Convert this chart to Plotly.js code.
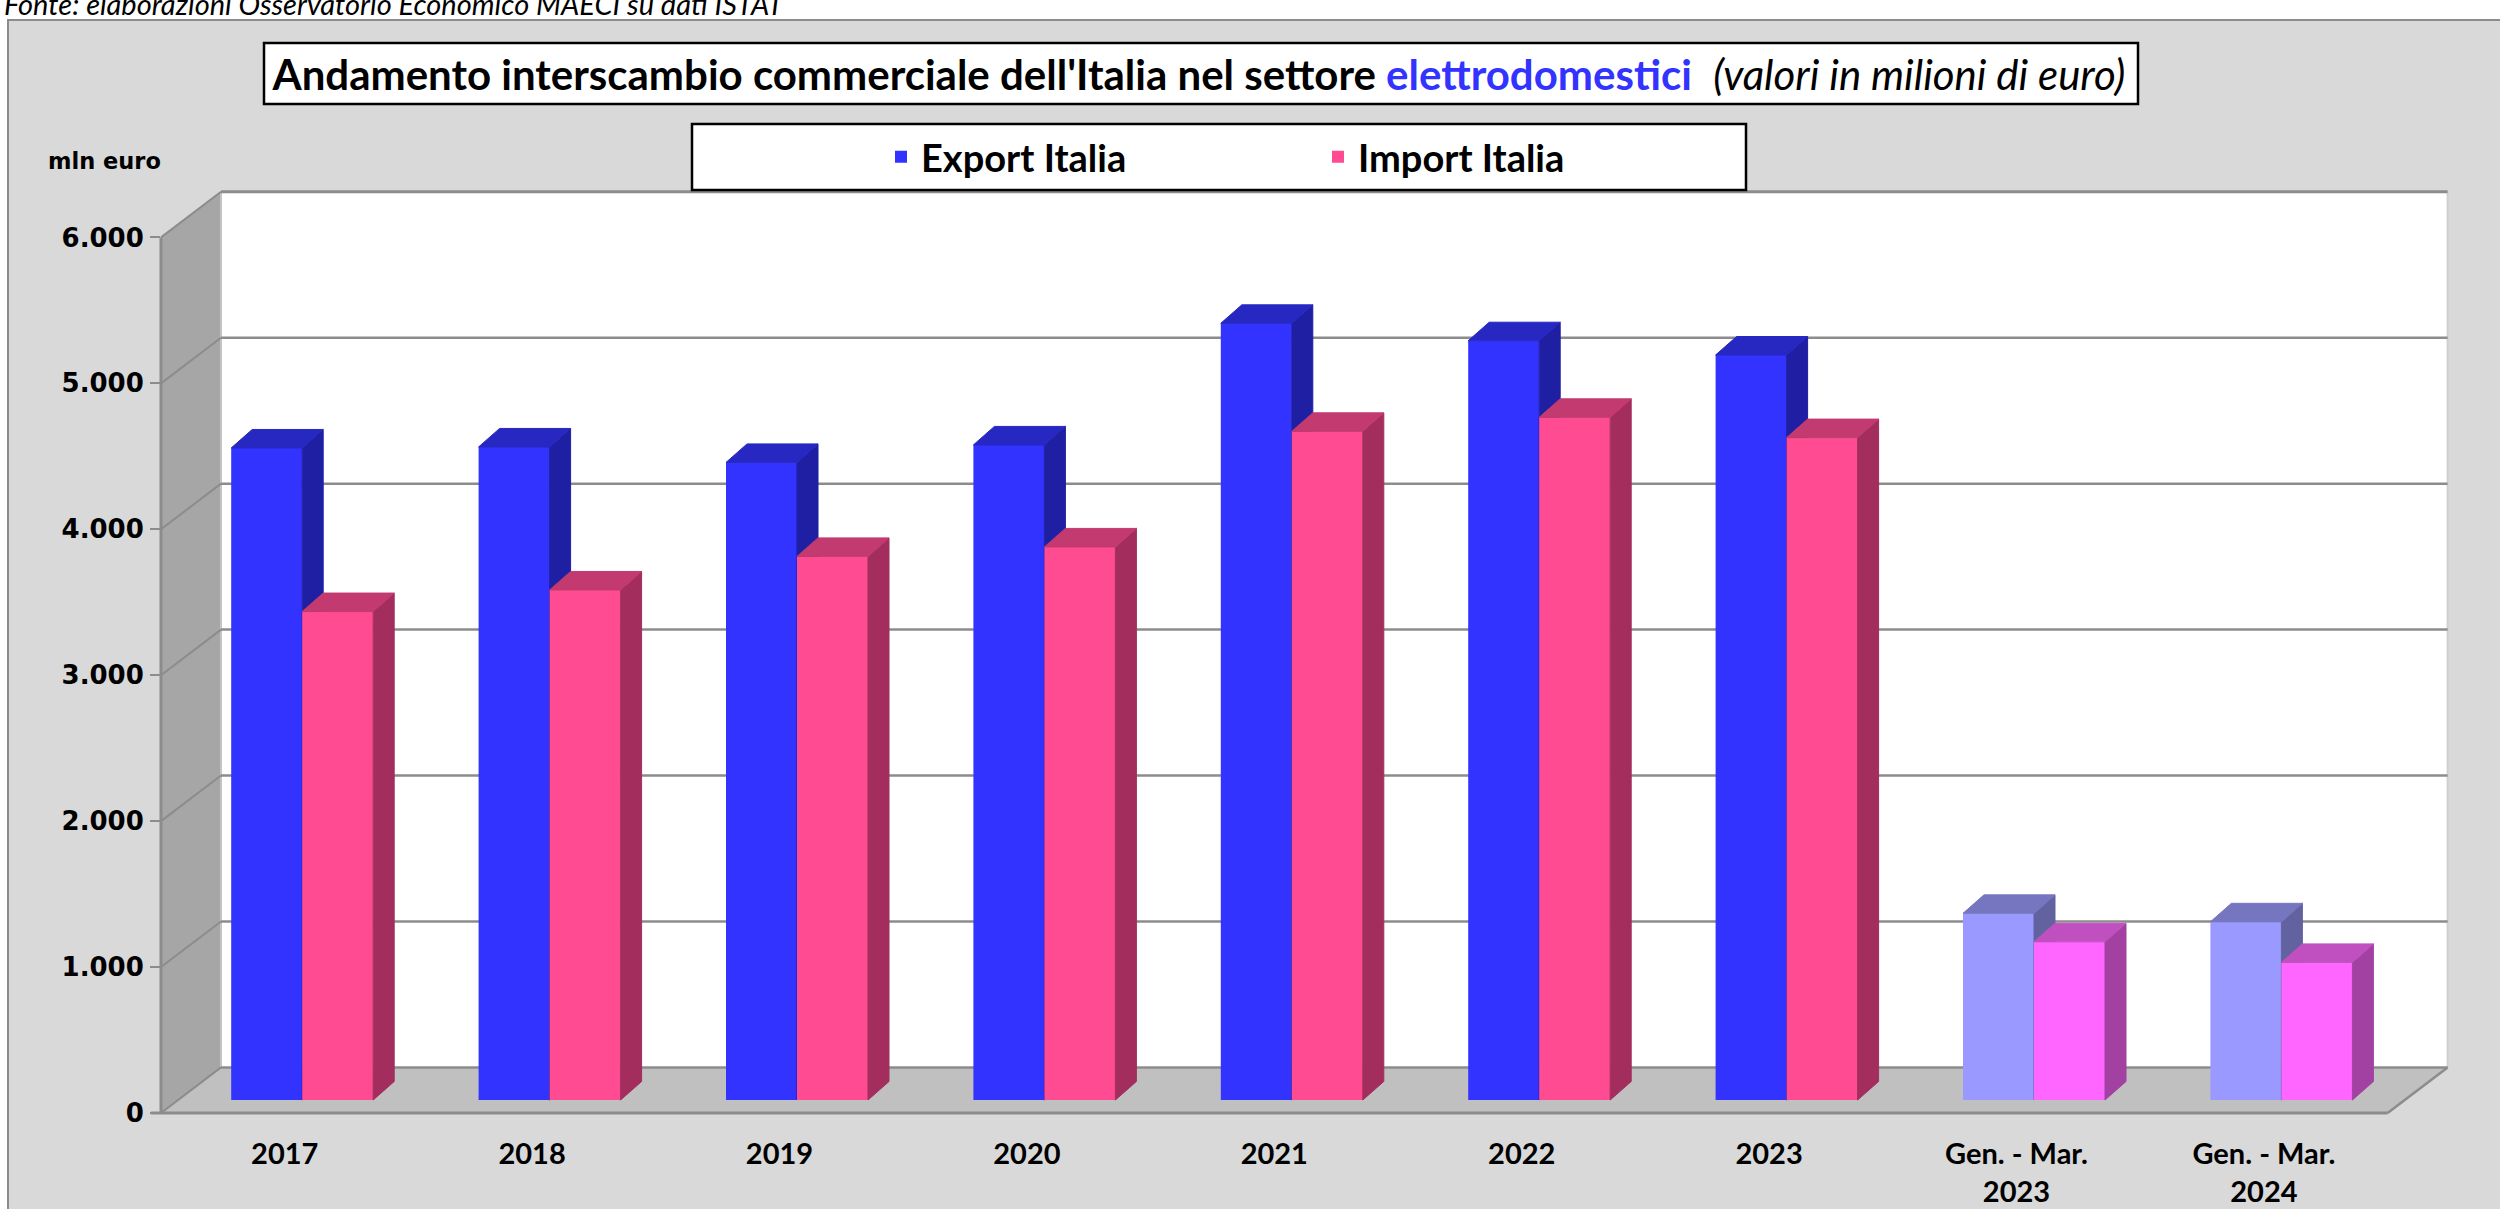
<!DOCTYPE html>
<html>
<head>
<meta charset="utf-8">
<script src="https://cdn.plot.ly/plotly-3.0.1.min.js"></script>
<style>html,body{margin:0;padding:0;background:#fff;}#chart{width:2500px;height:1209px;}</style>
</head>
<body>
<div id="chart"></div>
<script>
// ---------------- DATA ----------------
const categories = ["2017", "2018", "2019", "2020", "2021", "2022", "2023", "Gen. - Mar. 2023", "Gen. - Mar. 2024"];
const tickLabels = ["2017", "2018", "2019", "2020", "2021", "2022", "2023", "Gen. - Mar.<br>2023", "Gen. - Mar.<br>2024"];
const partialPeriod = [false, false, false, false, false, false, false, true, true];
const exportValues = [4468, 4475, 4369, 4489, 5322, 5203, 5105, 1279, 1221];
const importValues = [3347, 3495, 3725, 3790, 4582, 4678, 4539, 1084, 943];
const yTicks = [0, 1000, 2000, 3000, 4000, 5000, 6000];
const seriesNames = ["Export Italia", "Import Italia"];
const sourceText = "Fonte: elaborazioni Osservatorio Economico MAECI su dati ISTAT";
const yUnitText = "mln euro";

// ---------------- STYLE / GEOMETRY ----------------
const COL = {
  exp:  {front: "#3333ff", top: "#2727c2", side: "#1f1fa3"},
  expP: {front: "#9999ff", top: "#7676c0", side: "#6262a0"},
  imp:  {front: "#ff4b91", top: "#c23a6f", side: "#a32e5e"},
  impP: {front: "#ff66ff", top: "#c050c0", side: "#a241a2"}
};
const W = 2500, H = 1209;
const M = {l: 161, r: 52, t: 192, b: 96};
const PW = W - M.l - M.r, PH = H - M.t - M.b;
const CAT = 247.4;                  // px per category
const Y0F = H - M.b;                // front floor line (px)
const YPX = (Y0F - 237.4) / 6000;   // px per unit
const BDX = 60, BDY = 45.6;         // depth of back wall (px)
const BARDX = 17.5, BARDY = 13;     // bar plane offset from front plane (px)
const BARW = 71 / CAT;              // bar width (category units)
const DDX = 21 / CAT, DDY = 18.5 / YPX; // bar 3d depth in data units

const px2x = p => (p - M.l) / PW;
const py2y = p => (Y0F - p) / PH;
const xFront0 = M.l, xBack0 = M.l + BDX, xBackR = M.l + BDX + 9 * CAT, xFrontR = M.l + 9 * CAT;
const yBack0 = Y0F - BDY;
const yFrontOf = v => Y0F - v * YPX;
const yBackOf = v => yBack0 - v * YPX;

const idx = categories.map((c, i) => i);

// ---------------- 3D faces from data ----------------
function faces(values, left, wantPartial) {
  const top = {x: [], y: []}, side = {x: [], y: []};
  values.forEach((v, i) => {
    if (partialPeriod[i] !== wantPartial) return;
    const xL = i + left, xR = xL + BARW;
    top.x.push(xL, xL + DDX, xR + DDX, xR, xL, null);
    top.y.push(v, v + DDY, v + DDY, v, v, null);
    side.x.push(xR, xR, xR + DDX, xR + DDX, xR, null);
    side.y.push(0, v, v + DDY, DDY, 0, null);
  });
  return {top, side};
}
function faceTrace(pts, color, xa, ya) {
  return {type: "scatter", mode: "lines", x: pts.x, y: pts.y, xaxis: xa, yaxis: ya,
    fill: "toself", fillcolor: color, line: {color: color, width: 1},
    hoverinfo: "skip", showlegend: false, connectgaps: false};
}

const traces = [];
traces.push({type: "scatter", mode: "markers", x: idx, y: idx.map(() => 0), marker: {opacity: 0},
  hoverinfo: "skip", showlegend: false, xaxis: "x", yaxis: "y"});

// Export
traces.push({type: "bar", name: seriesNames[0], x: idx, y: exportValues, width: BARW, offset: -BARW,
  xaxis: "x2", yaxis: "y2",
  marker: {color: partialPeriod.map(p => p ? COL.expP.front : COL.exp.front), line: {width: 0}}});
[false, true].forEach(p => {
  const f = faces(exportValues, -BARW, p);
  const c = p ? COL.expP : COL.exp;
  traces.push(faceTrace(f.side, c.side, "x2", "y2"));
  traces.push(faceTrace(f.top, c.top, "x2", "y2"));
});
// Import
traces.push({type: "bar", name: seriesNames[1], x: idx, y: importValues, width: BARW, offset: 0,
  xaxis: "x3", yaxis: "y3",
  marker: {color: partialPeriod.map(p => p ? COL.impP.front : COL.imp.front), line: {width: 0}}});
[false, true].forEach(p => {
  const f = faces(importValues, 0, p);
  const c = p ? COL.impP : COL.imp;
  traces.push(faceTrace(f.side, c.side, "x3", "y3"));
  traces.push(faceTrace(f.top, c.top, "x3", "y3"));
});

// ---------------- SHAPES ----------------
const G = "#8c8c8c";
const shapes = [];
const rectPx = (x0, y0, x1, y1, fill, line) => ({type: "rect", xref: "paper", yref: "paper", layer: "below",
  x0: px2x(x0), x1: px2x(x1), y0: py2y(y0), y1: py2y(y1), fillcolor: fill, line: line});
const linePx = (x0, y0, x1, y1, color, width) => ({type: "line", xref: "paper", yref: "paper", layer: "below",
  x0: px2x(x0), x1: px2x(x1), y0: py2y(y0), y1: py2y(y1), line: {color: color, width: width}});
const polyPx = (pts, fill) => ({type: "path", xref: "paper", yref: "paper", layer: "below",
  path: "M" + pts.map(p => px2x(p[0]) + "," + py2y(p[1])).join("L") + "Z", fillcolor: fill, line: {width: 0}});

shapes.push(rectPx(8, 20, 2520, 1230, "#d9d9d9", {color: G, width: 2}));
shapes.push(rectPx(xBack0, yBackOf(6000), xBackR, yBack0, "#ffffff", {width: 0}));
shapes.push(polyPx([[xFront0, yFrontOf(6000)], [xBack0, yBackOf(6000)], [xBack0, yBack0], [xFront0, Y0F]], "#a6a6a6"));
shapes.push(polyPx([[xFront0, Y0F], [xBack0, yBack0], [xBackR, yBack0], [xFrontR, Y0F]], "#c0c0c0"));
shapes.push(linePx(xBackR, yBackOf(6000), xBackR, yBack0, "#cfcfcf", 2));
shapes.push(linePx(xBack0, yBackOf(6000), xBack0, yBack0, "#c4c4c4", 2));
yTicks.forEach(v => {
  shapes.push(linePx(xBack0, yBackOf(v), xBackR, yBackOf(v), G, v === 6000 ? 3 : 2.5));
  shapes.push(linePx(xFront0, yFrontOf(v), xBack0, yBackOf(v), G, 2));
});
shapes.push(linePx(xFront0, yFrontOf(6000), xFront0, Y0F, G, 3));
shapes.push(linePx(xFront0 - 10, Y0F, xFrontR, Y0F, G, 3));
shapes.push(linePx(xFrontR, Y0F, xBackR, yBack0, G, 2.5));
// title and legend boxes
shapes.push(rectPx(264, 43, 2138, 104, "#ffffff", {color: "#000000", width: 2.5}));
shapes.push(rectPx(692, 124, 1746, 190, "#ffffff", {color: "#000000", width: 2.5}));

// ---------------- LAYOUT ----------------
const hiddenX = r => ({range: r, visible: false, overlaying: "x", fixedrange: true});
const hiddenY = r => ({range: r, visible: false, overlaying: "y", fixedrange: true});
const xBarsRange = [-0.5 - BARDX / CAT, -0.5 - BARDX / CAT + PW / CAT];
const yBarsRange = [-BARDY / YPX, (PH - BARDY) / YPX];

const layout = {
  width: W, height: H,
  margin: M,
  paper_bgcolor: "#ffffff",
  plot_bgcolor: "rgba(0,0,0,0)",
  separators: ",.",
  showlegend: true,
  title: {
    text: "<b>Andamento interscambio commerciale dell'Italia nel settore <span style='color:#3333ff'>elettrodomestici</span></b>&nbsp;&nbsp;<i>(valori in milioni di euro)</i>",
    x: 1199 / W, xanchor: "center", xref: "container",
    y: 1 - 75 / H, yanchor: "middle", yref: "container",
    font: {family: "Lato, 'Open Sans', sans-serif", size: 42, color: "#000000"}
  },
  legend: {
    orientation: "h", xref: "container", yref: "container",
    x: 881 / W, xanchor: "left", y: 1 - 157 / H, yanchor: "middle",
    bgcolor: "rgba(0,0,0,0)", borderwidth: 0,
    entrywidth: 392, entrywidthmode: "pixels",
    font: {family: "Lato, 'Open Sans', sans-serif", size: 38, color: "#000000", weight: "bold"}
  },
  xaxis: {
    range: [-0.5, -0.5 + PW / CAT], fixedrange: true, showgrid: false, zeroline: false, showline: false,
    tickmode: "array", tickvals: idx, ticktext: tickLabels, ticks: "", ticklabelstandoff: 21,
    tickfont: {family: "Lato, 'Open Sans', sans-serif", size: 29, color: "#000000", weight: "bold"}
  },
  yaxis: {
    range: [0, PH / YPX], fixedrange: true, showgrid: false, zeroline: false, showline: false,
    tickmode: "array", tickvals: yTicks, tickformat: ",d",
    ticks: "outside", ticklen: 10, tickwidth: 2, tickcolor: G, ticklabelstandoff: 1,
    tickfont: {family: "'DejaVu Sans', Verdana, sans-serif", size: 26, color: "#000000", weight: "bold"}
  },
  xaxis2: hiddenX(xBarsRange), yaxis2: hiddenY(yBarsRange),
  xaxis3: hiddenX(xBarsRange), yaxis3: hiddenY(yBarsRange),
  shapes: shapes,
  annotations: [
    {xref: "paper", yref: "paper", x: px2x(2), y: py2y(4), xanchor: "left", yanchor: "middle",
     text: "<i>" + sourceText + "</i>", showarrow: false,
     font: {family: "Lato, 'Open Sans', sans-serif", size: 29, color: "#000000"}},
    {xref: "paper", yref: "paper", x: px2x(104), y: py2y(161), xanchor: "center", yanchor: "middle",
     text: "<b>" + yUnitText + "</b>", showarrow: false,
     font: {family: "'DejaVu Sans', Verdana, sans-serif", size: 22.5, color: "#000000"}}
  ]
};

Plotly.newPlot("chart", traces, layout, {displayModeBar: false, staticPlot: true});
</script>
</body>
</html>
